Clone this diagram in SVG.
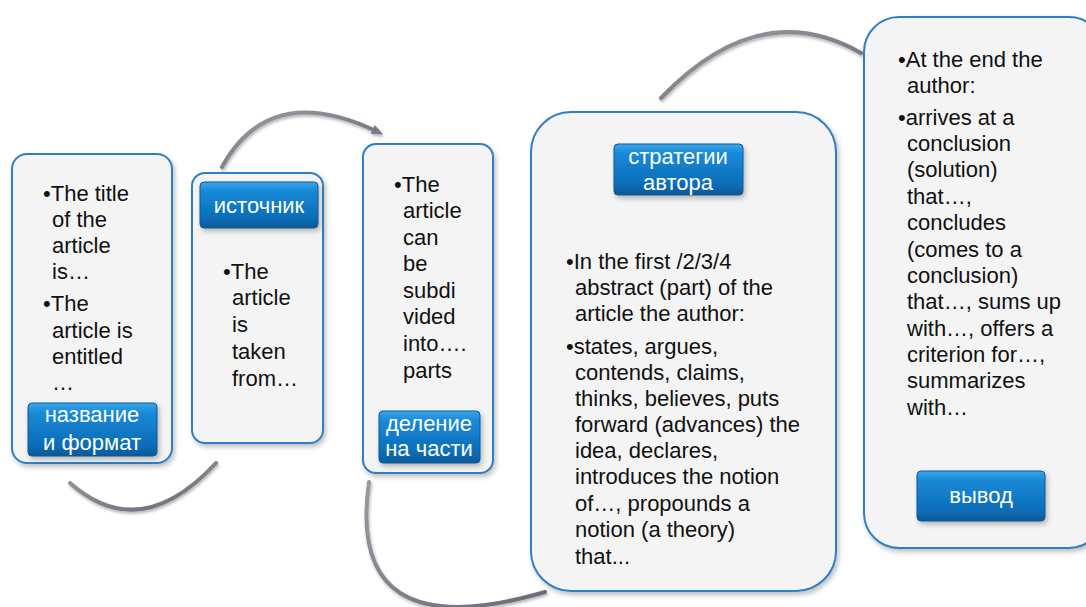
<svg xmlns="http://www.w3.org/2000/svg" width="1086" height="607" viewBox="0 0 1086 607">
<defs>
<filter id="sh" x="-10%" y="-10%" width="130%" height="130%">
<feDropShadow dx="2" dy="3" stdDeviation="2.5" flood-color="#000" flood-opacity="0.25"/>
</filter>
<filter id="ash" x="-20%" y="-20%" width="140%" height="140%">
<feDropShadow dx="1" dy="2" stdDeviation="1.5" flood-color="#000" flood-opacity="0.3"/>
</filter>
<linearGradient id="btn" x1="0" y1="0" x2="0" y2="1">
<stop offset="0" stop-color="#3aa6ea"/>
<stop offset="0.18" stop-color="#1a8ad8"/>
<stop offset="0.8" stop-color="#0a6cb8"/>
<stop offset="1" stop-color="#085894"/>
</linearGradient>
<linearGradient id="arc" x1="0" y1="0" x2="1" y2="1">
<stop offset="0" stop-color="#9a9aa2"/>
<stop offset="1" stop-color="#6a6a74"/>
</linearGradient>
<marker id="ah" viewBox="0 0 10 10" refX="5" refY="5" markerWidth="3" markerHeight="3" orient="auto">
<path d="M0,1 L10,5 L0,9 Z" fill="#7a7a84"/>
</marker>
</defs>
<style>
.box{fill:#f4f4f4;stroke:#2f7fc5;stroke-width:2;filter:url(#sh)}
.btn{fill:url(#btn);stroke:#0b5a98;stroke-width:1;filter:url(#sh)}
.t{font-family:"Liberation Sans",Arial,sans-serif;font-size:22px;fill:#111}
.bt{font-family:"Liberation Sans",Arial,sans-serif;font-size:22px;fill:#fff;text-anchor:middle}
.arc{fill:none;stroke:url(#arc);stroke-width:4;stroke-linecap:round;filter:url(#ash)}
</style>
<g id="connectors">
<path class="arc" d="M70,483 Q140,545 216,463"/>
<path class="arc" d="M222,167 Q270,80 378,132" marker-end="url(#ah)"/>
<path class="arc" d="M369,482 Q345,650 545,592"/>
<path class="arc" d="M661,98 Q760,-5 861,53"/>
</g>
<g id="node1">
<rect class="box" x="12" y="154" width="160" height="309" rx="15"/>
<text class="t"><tspan x="43" y="201">•The title</tspan><tspan x="52" y="227">of the</tspan><tspan x="52" y="253">article</tspan><tspan x="52" y="279">is…</tspan><tspan x="43" y="311">•The</tspan><tspan x="52" y="338">article is</tspan><tspan x="52" y="364">entitled</tspan><tspan x="52" y="390">…</tspan></text>
<rect class="btn" x="28" y="403" width="129" height="53" rx="4"/>
<text class="bt"><tspan x="92" y="422">название</tspan><tspan x="92" y="450">и формат</tspan></text>
</g>
<g id="node2">
<rect class="box" x="192" y="173" width="131" height="270" rx="13"/>
<rect class="btn" x="200" y="182" width="118" height="46" rx="4"/>
<text class="bt" x="259" y="213">источник</text>
<text class="t"><tspan x="223" y="279">•The</tspan><tspan x="232" y="305">article</tspan><tspan x="232" y="332">is</tspan><tspan x="232" y="359">taken</tspan><tspan x="232" y="386">from…</tspan></text>
</g>
<g id="node3">
<rect class="box" x="363" y="144" width="130" height="329" rx="13"/>
<text class="t"><tspan x="394" y="192">•The</tspan><tspan x="403" y="218">article</tspan><tspan x="403" y="245">can</tspan><tspan x="403" y="271">be</tspan><tspan x="403" y="298">subdi</tspan><tspan x="403" y="324">vided</tspan><tspan x="403" y="351">into….</tspan><tspan x="403" y="378">parts</tspan></text>
<rect class="btn" x="379" y="411" width="101" height="52" rx="4"/>
<text class="bt"><tspan x="429" y="431">деление</tspan><tspan x="429" y="456">на части</tspan></text>
</g>
<g id="node4">
<rect class="box" x="531" y="112" width="305" height="479" rx="40"/>
<rect class="btn" x="614" y="144" width="129" height="51" rx="4"/>
<text class="bt"><tspan x="678" y="164">стратегии</tspan><tspan x="678" y="190">автора</tspan></text>
<text class="t"><tspan x="566" y="269">•In the first /2/3/4</tspan><tspan x="575" y="295">abstract (part) of the</tspan><tspan x="575" y="321">article the author:</tspan><tspan x="566" y="354">•states, argues,</tspan><tspan x="575" y="380">contends, claims,</tspan><tspan x="575" y="406">thinks, believes, puts</tspan><tspan x="575" y="432">forward (advances) the</tspan><tspan x="575" y="458">idea, declares,</tspan><tspan x="575" y="484">introduces the notion</tspan><tspan x="575" y="511">of…, propounds a</tspan><tspan x="575" y="537">notion (a theory)</tspan><tspan x="575" y="564">that...</tspan></text>
</g>
<g id="node5">
<rect class="box" x="864" y="17" width="240" height="531" rx="35"/>
<text class="t"><tspan x="898" y="67">•At the end the</tspan><tspan x="907" y="93">author:</tspan><tspan x="898" y="125">•arrives at a</tspan><tspan x="907" y="151">conclusion</tspan><tspan x="907" y="177">(solution)</tspan><tspan x="907" y="204">that…,</tspan><tspan x="907" y="230">concludes</tspan><tspan x="907" y="257">(comes to a</tspan><tspan x="907" y="283">conclusion)</tspan><tspan x="907" y="309">that…, sums up</tspan><tspan x="907" y="336">with…, offers a</tspan><tspan x="907" y="362">criterion for…,</tspan><tspan x="907" y="388">summarizes</tspan><tspan x="907" y="415">with…</tspan></text>
<rect class="btn" x="917" y="471" width="128" height="50" rx="4"/>
<text class="bt" x="981" y="503">вывод</text>
</g>
</svg>
